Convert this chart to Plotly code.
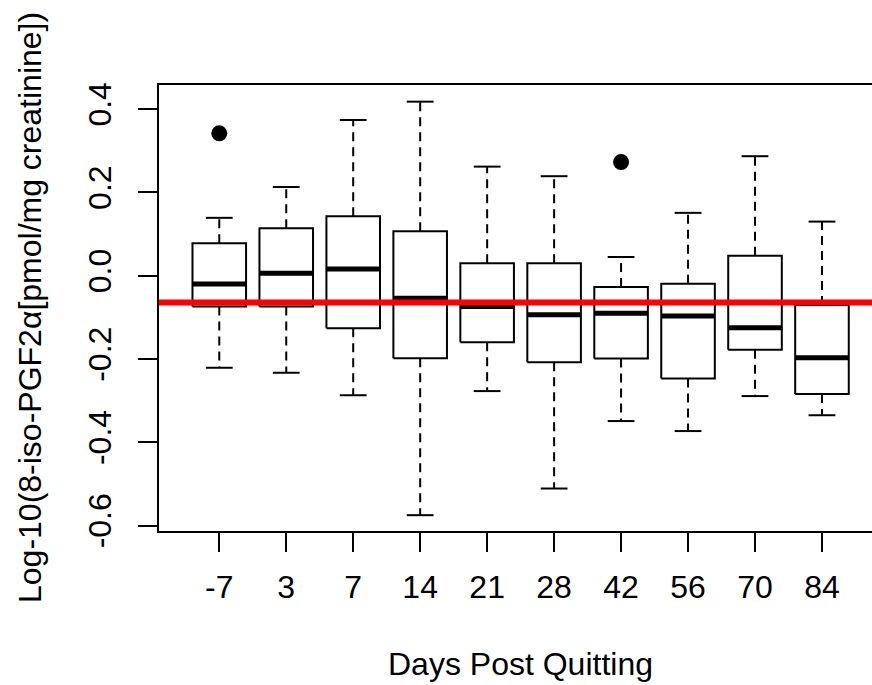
import plotly.graph_objects as go

# ---- data ----
days = ["-7", "3", "7", "14", "21", "28", "42", "56", "70", "84"]
upper_whisker = [0.139, 0.213, 0.374, 0.418, 0.262, 0.239, 0.045, 0.151, 0.287, 0.130]
q3 = [0.078, 0.114, 0.143, 0.107, 0.030, 0.030, -0.027, -0.019, 0.048, -0.070]
median = [-0.020, 0.006, 0.016, -0.054, -0.074, -0.094, -0.090, -0.097, -0.125, -0.197]
q1 = [-0.074, -0.074, -0.126, -0.198, -0.160, -0.208, -0.199, -0.247, -0.178, -0.284]
lower_whisker = [-0.221, -0.233, -0.287, -0.575, -0.277, -0.511, -0.349, -0.373, -0.289, -0.335]
outlier_day = ["-7", "42"]
outlier_value = [0.342, 0.273]
reference_level = -0.064

y_ticks = [-0.6, -0.4, -0.2, 0.0, 0.2, 0.4]
y_tick_text = ["-0.6", "-0.4", "-0.2", "0.0", "0.2", "0.4"]

# ---- geometry helpers ----
pos = list(range(1, len(days) + 1))
half_box = 0.4
half_cap = 0.2
FONT = "Liberation Sans, Arial, Helvetica, sans-serif"
FS = 32

box_x, box_y = [], []
wh_x, wh_y = [], []
cap_x, cap_y = [], []
med_x, med_y = [], []
for p, uw, a3, m, a1, lw in zip(pos, upper_whisker, q3, median, q1, lower_whisker):
    box_x += [p - half_box, p + half_box, p + half_box, p - half_box, p - half_box, None]
    box_y += [a1, a1, a3, a3, a1, None]
    wh_x += [p, p, None, p, p, None]
    wh_y += [a3, uw, None, a1, lw, None]
    cap_x += [p - half_cap, p + half_cap, None, p - half_cap, p + half_cap, None]
    cap_y += [uw, uw, None, lw, lw, None]
    med_x += [p - half_box, p + half_box, None]
    med_y += [m, m, None]

out_x = [pos[days.index(d)] for d in outlier_day]

fig = go.Figure()
fig.add_trace(go.Scatter(x=wh_x, y=wh_y, mode="lines",
                         line=dict(color="black", width=2, dash="9px,6px"),
                         hoverinfo="skip", showlegend=False))
fig.add_trace(go.Scatter(x=cap_x, y=cap_y, mode="lines",
                         line=dict(color="black", width=2),
                         hoverinfo="skip", showlegend=False))
fig.add_trace(go.Scatter(x=box_x, y=box_y, mode="lines",
                         line=dict(color="black", width=2),
                         hoverinfo="skip", showlegend=False))
fig.add_trace(go.Scatter(x=med_x, y=med_y, mode="lines",
                         line=dict(color="black", width=5),
                         hoverinfo="skip", showlegend=False))
fig.add_trace(go.Scatter(x=out_x, y=outlier_value, mode="markers",
                         marker=dict(color="black", size=16),
                         hoverinfo="skip", showlegend=False))

fig.add_shape(type="line", xref="paper", x0=0, x1=1, yref="y",
              y0=reference_level, y1=reference_level,
              line=dict(color="#ff0000", width=6), layer="above")

fig.update_layout(
    width=872, height=685,
    margin=dict(l=159, r=0, t=85, b=154),
    paper_bgcolor="white", plot_bgcolor="white",
    font=dict(family=FONT, size=FS, color="black"),
    showlegend=False,
    xaxis=dict(range=[0.1, 10.747], tickvals=pos, ticktext=days,
               showgrid=False, zeroline=False, showline=True, mirror=True,
               linecolor="black", linewidth=2,
               ticks="outside", ticklen=19, tickwidth=2, tickcolor="black",
               ticklabelstandoff=8,
               tickfont=dict(family=FONT, size=FS)),
    yaxis=dict(range=[-0.613, 0.458], tickvals=y_ticks, ticktext=y_tick_text,
               showgrid=False, zeroline=False, showline=True, mirror=False,
               linecolor="black", linewidth=2,
               ticks="outside", ticklen=19, tickwidth=2, tickcolor="black",
               tickangle=-90, ticklabelstandoff=14,
               tickfont=dict(family=FONT, size=FS)),
    annotations=[
        dict(text="Days Post Quitting", xref="x", x=5.5, yref="paper", y=-0.298,
             xanchor="center", yanchor="middle", showarrow=False,
             font=dict(family=FONT, size=FS)),
        dict(text="Log-10(8-iso-PGF2α[pmol/mg creatinine])", textangle=-90,
             xref="paper", x=(30 - 159) / 713, yref="paper", y=0.5,
             xanchor="center", yanchor="middle", showarrow=False,
             font=dict(family=FONT, size=FS)),
    ],
)

fig.write_html("out.html",
               config={"displayModeBar": False},
               post_script="document.body.style.margin='0';document.body.style.overflow='hidden';")
